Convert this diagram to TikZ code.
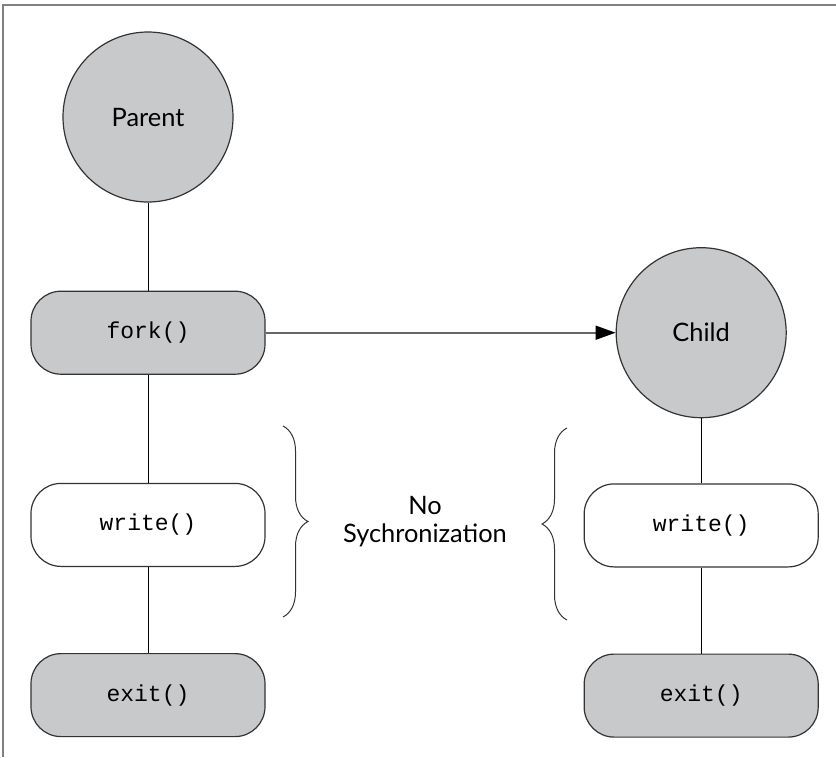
\documentclass[tikz,border=0pt]{standalone}
\usepackage{fontspec}
\setmainfont{Lato}
\setmonofont{Liberation Mono}
\usetikzlibrary{positioning,arrows.meta,decorations.pathreplacing}
\definecolor{procgray}{HTML}{C8C9CB}
\definecolor{edgegray}{HTML}{333333}
\definecolor{framegray}{HTML}{808080}

\begin{document}
\begin{tikzpicture}[
x=1pt, y=1pt,
proc/.style={circle, draw=edgegray, line width=0.6pt, fill=procgray, minimum size=85pt, inner sep=0pt, font=\fontsize{12.7}{14}\selectfont},
call/.style={draw=edgegray, line width=0.6pt, rounded corners=15pt, minimum width=117pt, minimum height=41.5pt, inner sep=0pt, font=\ttfamily\fontsize{11.5}{13}\selectfont},
shaded/.style={call, fill=procgray},
plain/.style={call, fill=white},
link/.style={line width=0.5pt, black},
arrow/.style={-{Triangle[length=10pt, width=7pt, color=black]}, line width=0.8pt, black!60},
curly/.style={decorate, decoration={brace, amplitude=12.5pt}, line width=0.5pt, edgegray}
]
\useasboundingbox (-74,-320) rectangle (344,58.5);
\draw[framegray, line width=0.8pt] (-72.5,-320) -- (-72.5,56) -- (344,56);

% parent side
\node[proc] (parent) {Parent};
\node[shaded, below=44pt of parent] (fork) {fork()};
\node[plain, below=54pt of fork] (pwrite) {write()};
\node[shaded, below=43pt of pwrite] (pexit) {exit()};

% child side
\node[proc, right=175pt of fork] (child) {Child};
\node[plain, below=32.5pt of child] (cwrite) {write()};
\node[shaded, below=43pt of cwrite] (cexit) {exit()};

\draw[link] (parent) -- (fork);
\draw[link] (fork) -- (pwrite);
\draw[link] (pwrite) -- (pexit);
\draw[link] (child) -- (cwrite);
\draw[link] (cwrite) -- (cexit);
\draw[arrow] (fork) -- (child);

% braces
\coordinate (lbtop) at (67.5,-154.5);
\coordinate (lbbot) at (67.5,-250);
\coordinate (rbtop) at (209.5,-155.5);
\coordinate (rbbot) at (209.5,-251.5);
\draw[curly] (lbtop) -- (lbbot);
\draw[curly] (rbbot) -- (rbtop);
\node[align=center, font=\fontsize{12.7}{14}\selectfont] (nosync) at (138.5,-202.5) {No\\Sychronization};
\end{tikzpicture}
\end{document}
